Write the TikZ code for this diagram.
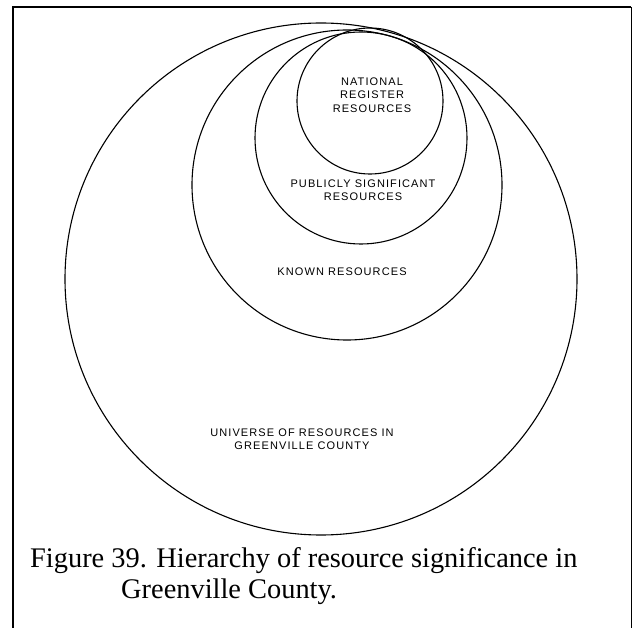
\documentclass[tikz,border=0pt]{standalone}
\usepackage{fontspec}
\setmainfont{Liberation Serif}
\newfontfamily\labelfont[LetterSpace=10]{Liberation Sans}
\usetikzlibrary{positioning}

\begin{document}
\begin{tikzpicture}[
    x=1pt, y=-1pt,
    ring/.style={draw=black, line width=1.1pt},
    lbl/.style={font=\labelfont\fontsize{11}{13.5}\selectfont, align=center, inner sep=0pt},
    capt/.style={font=\fontsize{28.4}{31}\selectfont, inner sep=0pt, anchor=base west}
  ]
    \useasboundingbox (0,0) rectangle (632,628);
    % frame, open at the bottom
    \draw[line width=2.4pt] (13,632) -- (13,7) -- (631,7);
    \draw[line width=0.7pt] (631,7) -- (631,628);

    % nested circles, all touching near the top
    \coordinate (univc) at (321,279);
    \coordinate (knownc) at (347,185);
    \coordinate (pubc) at (361,138);
    \coordinate (natc) at (370,101);
    \draw[ring] (univc) circle (256);
    \draw[ring] (knownc) circle (155);
    \draw[ring] (pubc) circle (106);
    \draw[ring] (natc) circle (73);

    \node (nat) [lbl] at (372,95) {NATIONAL\\REGISTER\\RESOURCES};
    \node (pub) [lbl] at (363,190) {PUBLICLY SIGNIFICANT\\RESOURCES};
    \node (known) [lbl] at (342,272) {KNOWN RESOURCES};
    \node (univ) [lbl] at (302,439) {UNIVERSE OF RESOURCES IN\\GREENVILLE COUNTY};

    \node (cap1) [capt] at (30,567) {Figure 39. Hierarchy of resource significance in};
    \node (cap2) [capt] at (121,598) {Greenville County.};
  \end{tikzpicture}
\end{document}
